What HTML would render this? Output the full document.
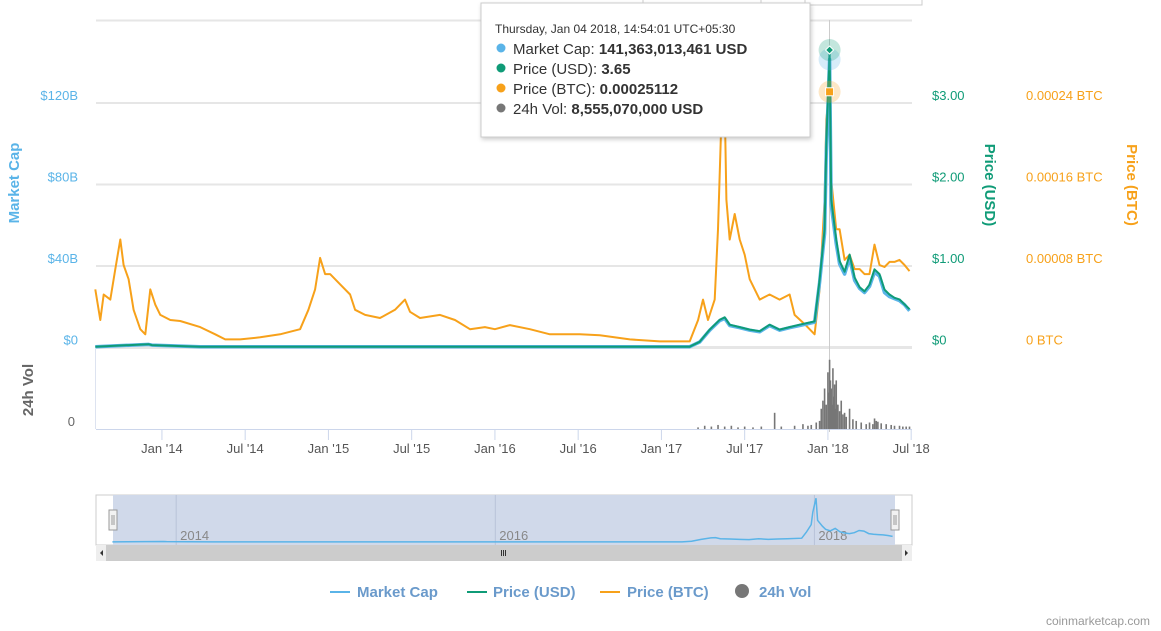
<!DOCTYPE html>
<html><head><meta charset="utf-8"><style>
html,body{margin:0;padding:0;background:#fff;width:1161px;height:631px;overflow:hidden;font-family:"Liberation Sans",sans-serif}
svg{display:block}
</style></head><body>
<svg id="chart" width="1161" height="631" viewBox="0 0 1161 631">
<g>
<rect x="643" y="-3" width="279" height="8" fill="#fff" stroke="#ccc"/>
<line x1="761" y1="0" x2="761" y2="5" stroke="#ccc"/><line x1="805" y1="0" x2="805" y2="5" stroke="#ccc"/>
</g>
<g id="grid"></g>
<g id="axes"></g>
<g id="vol"></g>
<g id="series"></g>
<g id="nav"></g>
<g font-size="15" font-weight="bold" fill="#6a9acb">
<g><line x1="330" y1="592" x2="350" y2="592" stroke="#5ab4e8" stroke-width="2"/><text x="357" y="597">Market Cap</text></g>
<g><line x1="467" y1="592" x2="487" y2="592" stroke="#0f9b77" stroke-width="2"/><text x="493" y="597">Price (USD)</text></g>
<g><line x1="600" y1="592" x2="620" y2="592" stroke="#f7a11a" stroke-width="2"/><text x="627" y="597">Price (BTC)</text></g>
<g><circle cx="742" cy="591" r="7" fill="#777"/><text x="759" y="597">24h Vol</text></g>
</g>
<text x="1150" y="625" text-anchor="end" font-size="12" fill="#999">coinmarketcap.com</text>
<g id="tooltip">
<rect x="481" y="3" width="329" height="134" fill="#fff" stroke="#ccc" style="filter:drop-shadow(1px 2px 2px rgba(0,0,0,0.2))"/>
<text x="495" y="33" font-size="12" fill="#333">Thursday, Jan 04 2018, 14:54:01 UTC+05:30</text>
<circle cx="501" cy="48" r="4.5" fill="#5ab4e8"/><text x="513" y="54" font-size="15" fill="#333">Market Cap: <tspan font-weight="bold">141,363,013,461 USD</tspan></text>
<circle cx="501" cy="68" r="4.5" fill="#0f9b77"/><text x="513" y="74" font-size="15" fill="#333">Price (USD): <tspan font-weight="bold">3.65</tspan></text>
<circle cx="501" cy="88" r="4.5" fill="#f7a11a"/><text x="513" y="94" font-size="15" fill="#333">Price (BTC): <tspan font-weight="bold">0.00025112</tspan></text>
<circle cx="501" cy="108" r="4.5" fill="#777"/><text x="513" y="114" font-size="15" fill="#333">24h Vol: <tspan font-weight="bold">8,555,070,000 USD</tspan></text>
</g>
</svg>
<script>
const usdTimes=[2013.60,2013.92,2013.94,2014.23,2017.17,2017.23,2017.29,2017.35,2017.38,2017.41,2017.47,2017.53,2017.59,2017.65,2017.71,2017.77,2017.83,2017.92,2017.95,2017.98,2017.99,2018.01,2018.02,2018.05,2018.07,2018.10,2018.13,2018.16,2018.19,2018.22,2018.25,2018.28,2018.31,2018.34,2018.37,2018.40,2018.43,2018.46,2018.49];
const priceUsd=[0.01,0.04,0.03,0.01,0.01,0.07,0.22,0.34,0.37,0.28,0.25,0.22,0.20,0.28,0.22,0.25,0.28,0.32,0.83,1.45,2.49,3.65,1.82,1.33,1.06,0.93,1.14,0.86,0.74,0.69,0.77,0.96,0.90,0.71,0.65,0.61,0.59,0.53,0.47];
const marketCapB=[0.4,1.5,1.2,0.4,0.4,2.7,8.5,13.2,14.3,10.8,9.7,8.5,7.7,10.8,8.5,9.7,10.8,12.4,32,56,96,141.4,70,51,41,36,44,33,29,27,30,37,35,27,25,24,23,21,18];
const btcTimes=[2013.60,2013.63,2013.65,2013.69,2013.72,2013.75,2013.77,2013.80,2013.83,2013.87,2013.90,2013.93,2013.96,2013.99,2014.05,2014.11,2014.23,2014.32,2014.38,2014.47,2014.59,2014.71,2014.83,2014.88,2014.92,2014.95,2014.98,2015.01,2015.07,2015.13,2015.16,2015.22,2015.31,2015.40,2015.46,2015.49,2015.55,2015.67,2015.76,2015.85,2015.94,2016.00,2016.09,2016.21,2016.33,2016.51,2016.63,2016.81,2016.99,2017.17,2017.22,2017.25,2017.28,2017.32,2017.34,2017.36,2017.38,2017.39,2017.41,2017.44,2017.47,2017.50,2017.53,2017.59,2017.65,2017.71,2017.77,2017.80,2017.86,2017.92,2017.95,2017.98,2017.99,2018.01,2018.02,2018.05,2018.07,2018.10,2018.13,2018.16,2018.19,2018.22,2018.25,2018.28,2018.31,2018.34,2018.37,2018.40,2018.43,2018.46,2018.49];
const priceBtcMicro=[57,27,52,47,77,106,81,67,37,18,13,57,42,32,27,26,20,13,8,8,10,13,18,37,57,88,72,72,62,52,37,32,29,37,47,35,29,32,27,18,20,18,22,18,13,13,12,8,6,6,27,47,27,47,116,224,239,145,106,131,106,91,67,47,52,47,52,32,23,13,57,145,224,251,165,116,116,86,91,77,77,72,72,101,81,79,84,84,86,81,75];
const volTimes=[2017.22,2017.26,2017.30,2017.34,2017.38,2017.42,2017.46,2017.50,2017.55,2017.60,2017.68,2017.72,2017.80,2017.85,2017.88,2017.90,2017.93,2017.95,2017.96,2017.97,2017.98,2017.99,2018.00,2018.005,2018.01,2018.015,2018.02,2018.025,2018.03,2018.035,2018.04,2018.045,2018.05,2018.055,2018.06,2018.07,2018.08,2018.09,2018.10,2018.11,2018.13,2018.15,2018.17,2018.20,2018.23,2018.25,2018.27,2018.28,2018.29,2018.30,2018.32,2018.35,2018.38,2018.40,2018.43,2018.45,2018.47,2018.49];
const volB=[0.2,0.4,0.3,0.5,0.3,0.4,0.2,0.3,0.2,0.3,2.0,0.3,0.4,0.6,0.4,0.5,0.8,1.0,2.5,3.5,5.0,3.0,7.0,4.5,8.55,6.0,5.0,3.0,7.5,4.0,5.5,2.5,6.0,3.0,3.0,2.2,3.5,1.8,2.0,1.5,2.5,1.2,1.0,0.8,0.6,0.8,0.6,1.3,1.0,0.9,0.7,0.6,0.5,0.4,0.4,0.3,0.3,0.3];
const xTickLabels=["Jan '14","Jul '14","Jan '15","Jul '15","Jan '16","Jul '16","Jan '17","Jul '17","Jan '18","Jul '18"];
const xTickTimes=[2014,2014.5,2015,2015.5,2016,2016.5,2017,2017.5,2018,2018.5];
const mcTicks=[0,40,80,120];const mcTickLabels=["$0","$40B","$80B","$120B"];
const usdTicks=[0,1,2,3];const usdTickLabels=["$0","$1.00","$2.00","$3.00"];
const btcTicks=[0,8,16,24];const btcTickLabels=["0 BTC","0.00008 BTC","0.00016 BTC","0.00024 BTC"];
const navTicks=[2014,2016,2018];

const NS="http://www.w3.org/2000/svg";
function mk(parent,tag,attrs,txt){const e=document.createElementNS(NS,tag);for(const k in attrs)e.setAttribute(k,attrs[k]);if(txt!=null)e.textContent=txt;parent.appendChild(e);return e;}
const X0=96,X1=912,T0=2013.604,T1=2018.505;
const x=t=>X0+(t-T0)/(T1-T0)*(X1-X0);
const Y0=347.5;
const yMc=v=>Y0-v*(244.5/120);
const yUsd=v=>Y0-v*(244.5/3);
const yBtc=v=>Y0-v*(244.5/24)/10;
const VB=429;const yVol=v=>VB-v*8.1;
const grid=document.getElementById('grid'),axes=document.getElementById('axes');
mk(grid,'line',{x1:X0,y1:20.5,x2:X1,y2:20.5,stroke:'#e6e6e6','stroke-width':2});
mcTicks.forEach((v,i)=>{
 const gl=mk(grid,'line',{x1:X0,y1:yMc(v),x2:X1,y2:yMc(v),stroke:'#e6e6e6','stroke-width':i==0?3:2});
 
 const t=mk(axes,'text',{x:78,y:yMc(v)-3,'text-anchor':'end','font-size':13,fill:'#5ab4e8'},mcTickLabels[i]);
 
});
usdTicks.forEach((v,i)=>{const t=mk(axes,'text',{x:932,y:yUsd(v)-3,'font-size':13,fill:'#0f9b77'},usdTickLabels[i]);
 });
btcTicks.forEach((v,i)=>{const t=mk(axes,'text',{x:1026,y:yBtc(v*10)-3,'font-size':13,fill:'#f7a11a'},btcTickLabels[i]);
 });
let ti;
ti=mk(axes,'text',{transform:'translate(19,183) rotate(-90)','text-anchor':'middle','font-size':15,'font-weight':'bold',fill:'#5ab4e8'},'Market Cap');
ti=mk(axes,'text',{transform:'translate(33,390) rotate(-90)','text-anchor':'middle','font-size':15,'font-weight':'bold',fill:'#666'},'24h Vol');
ti=mk(axes,'text',{transform:'translate(985,185) rotate(90)','text-anchor':'middle','font-size':15,'font-weight':'bold',fill:'#0f9b77'},'Price (USD)');
ti=mk(axes,'text',{transform:'translate(1127,185) rotate(90)','text-anchor':'middle','font-size':15,'font-weight':'bold',fill:'#f7a11a'},'Price (BTC)');
ti=mk(axes,'text',{x:75,y:426,'text-anchor':'end','font-size':13,fill:'#666'},'0');
mk(axes,'line',{x1:X0-0.5,y1:349,x2:X0-0.5,y2:429,stroke:'#dde3f0'});
mk(axes,'line',{x1:X0,y1:429.5,x2:X1,y2:429.5,stroke:'#ccd6eb'});
xTickTimes.forEach((t,i)=>{
 mk(axes,'line',{x1:x(t),y1:430,x2:x(t),y2:440,stroke:'#ccd6eb'});
 const l=mk(axes,'text',{x:x(t),y:453,'text-anchor':'middle','font-size':13,fill:'#555'},xTickLabels[i]);
 
});
mk(axes,'line',{x1:829.5,y1:20,x2:829.5,y2:432,stroke:'#ccc'});
const vol=document.getElementById('vol');
volTimes.forEach((t,i)=>{const r=mk(vol,'rect',{x:x(t)-0.8,y:yVol(volB[i]),width:1.6,height:VB-yVol(volB[i]),fill:'#777'});
 });
const S=document.getElementById('series');
function path(ts,vs,f){return ts.map((t,i)=>(i?'L':'M')+x(t).toFixed(1)+','+f(vs[i]).toFixed(1)).join('');}
let p;
p=mk(S,'path',{d:path(btcTimes,priceBtcMicro,yBtc),fill:'none',stroke:'#f7a11a','stroke-width':2,'stroke-linejoin':'round'});
p=mk(S,'path',{d:path(usdTimes,marketCapB,yMc),fill:'none',stroke:'#5ab4e8','stroke-width':3.5,'stroke-linejoin':'round'});
p=mk(S,'path',{d:path(usdTimes,priceUsd,yUsd),fill:'none',stroke:'#0f9b77','stroke-width':2,'stroke-linejoin':'round'});
const hi=usdTimes.indexOf(2018.01);
mk(S,'circle',{cx:x(usdTimes[hi]),cy:yMc(marketCapB[hi]),r:11,fill:'#5ab4e8',opacity:0.25});
mk(S,'circle',{cx:x(usdTimes[hi]),cy:yUsd(priceUsd[hi]),r:11,fill:'#0f9b77',opacity:0.25});
mk(S,'path',{d:`M${x(usdTimes[hi])},${yUsd(priceUsd[hi])-4}l4,4l-4,4l-4,-4z`,fill:'#0f9b77',stroke:'#fff'});
const bi=btcTimes.indexOf(2018.01);
mk(S,'circle',{cx:x(btcTimes[bi]),cy:yBtc(priceBtcMicro[bi]),r:11,fill:'#f7a11a',opacity:0.25});
mk(S,'rect',{x:x(btcTimes[bi])-4,y:yBtc(priceBtcMicro[bi])-4,width:8,height:8,fill:'#f7a11a',stroke:'#fff'});
const N=document.getElementById('nav');
const NX0=113,NX1=895,nx=t=>NX0+(t-T0)/(T1-T0)*(NX1-NX0),ny=v=>542-v*0.31;
mk(N,'rect',{x:96,y:495,width:816,height:50,fill:'#fff',stroke:'#ccc'});
mk(N,'rect',{x:NX0,y:495,width:NX1-NX0,height:50,fill:'#d0d9ea'});
navTicks.forEach(t=>{mk(N,'line',{x1:nx(t),y1:495,x2:nx(t),y2:545,stroke:'#b8c3d8'});
 const l=mk(N,'text',{x:nx(t)+4,y:540,'font-size':13,fill:'#888'},String(t));});
p=mk(N,'path',{d:usdTimes.map((t,i)=>(i?'L':'M')+nx(t).toFixed(1)+','+ny(marketCapB[i]).toFixed(1)).join(''),fill:'none',stroke:'#5ab4e8','stroke-width':1.5});

[NX0,NX1].forEach(hx=>{const h=mk(N,'rect',{x:hx-4,y:510,width:8,height:20,fill:'#f2f2f2',stroke:'#999'});
 mk(N,'line',{x1:hx-1,y1:515,x2:hx-1,y2:525,stroke:'#999'});mk(N,'line',{x1:hx+1,y1:515,x2:hx+1,y2:525,stroke:'#999'});});
const sb=mk(N,'rect',{x:96,y:545,width:816,height:16,fill:'#eee'});
const th=mk(N,'rect',{x:106,y:545,width:796,height:16,fill:'#ccc'});
mk(N,'path',{d:'M100,553l3,-3v6z',fill:'#333'});mk(N,'path',{d:'M908,553l-3,-3v6z',fill:'#333'});
[501.5,503.5,505.5].forEach(v=>mk(N,'line',{x1:v,y1:550,x2:v,y2:556,stroke:'#333','stroke-width':1}));
</script>
</body></html>
